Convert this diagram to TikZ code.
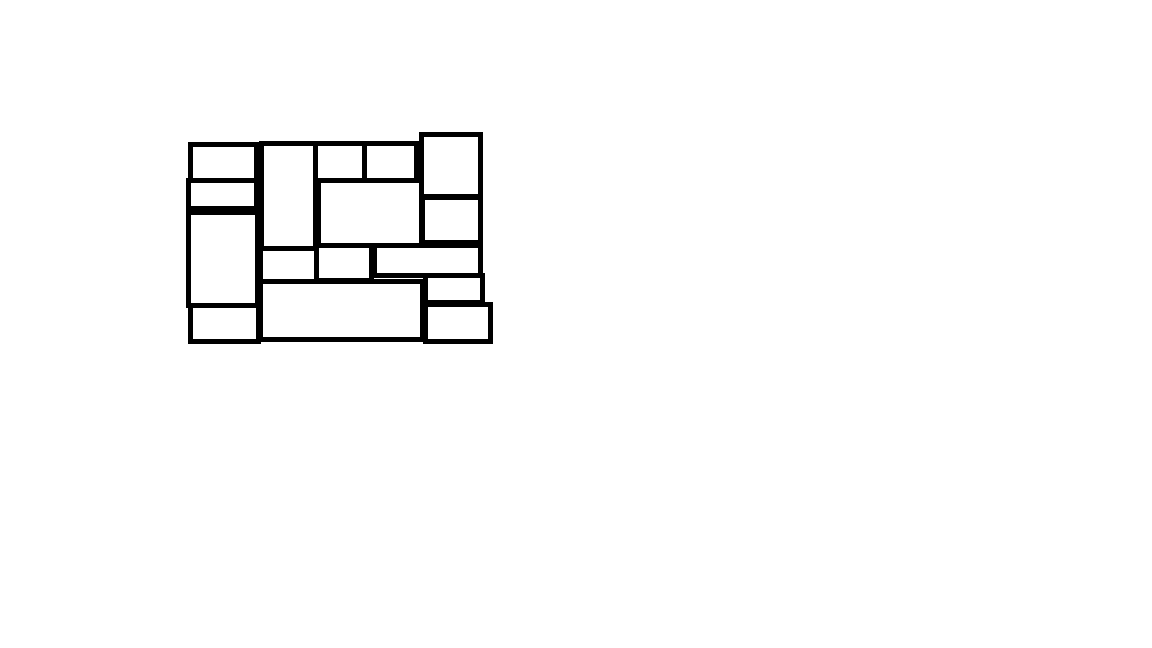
\documentclass[tikz,border=0pt]{standalone}
\begin{document}
\begin{tikzpicture}[x=1pt,y=-1pt,box/.style={draw=black,line width=5pt,fill=none}]
\useasboundingbox (0,0) rectangle (1152,648);
\draw[box] (190,144) rectangle (256,180);
\draw[box] (188,180) rectangle (256,208);
\draw[box] (188,212) rectangle (257,305);
\draw[box] (190,305) rectangle (258,341);
\draw[box] (261,143) rectangle (315,248);
\draw[box] (315,143) rectangle (364,180);
\draw[box] (364,143) rectangle (416,180);
\draw[box] (318,180) rectangle (421,245);
\draw[box] (421,134) rectangle (480,196);
\draw[box] (422,197) rectangle (480,242);
\draw[box] (260,248) rectangle (316,281);
\draw[box] (316,245) rectangle (371,280);
\draw[box] (374,245) rectangle (480,275);
\draw[box] (260,281) rectangle (422,339);
\draw[box] (425,275) rectangle (482,302);
\draw[box] (425,304) rectangle (490,341);
\end{tikzpicture}
\end{document}
